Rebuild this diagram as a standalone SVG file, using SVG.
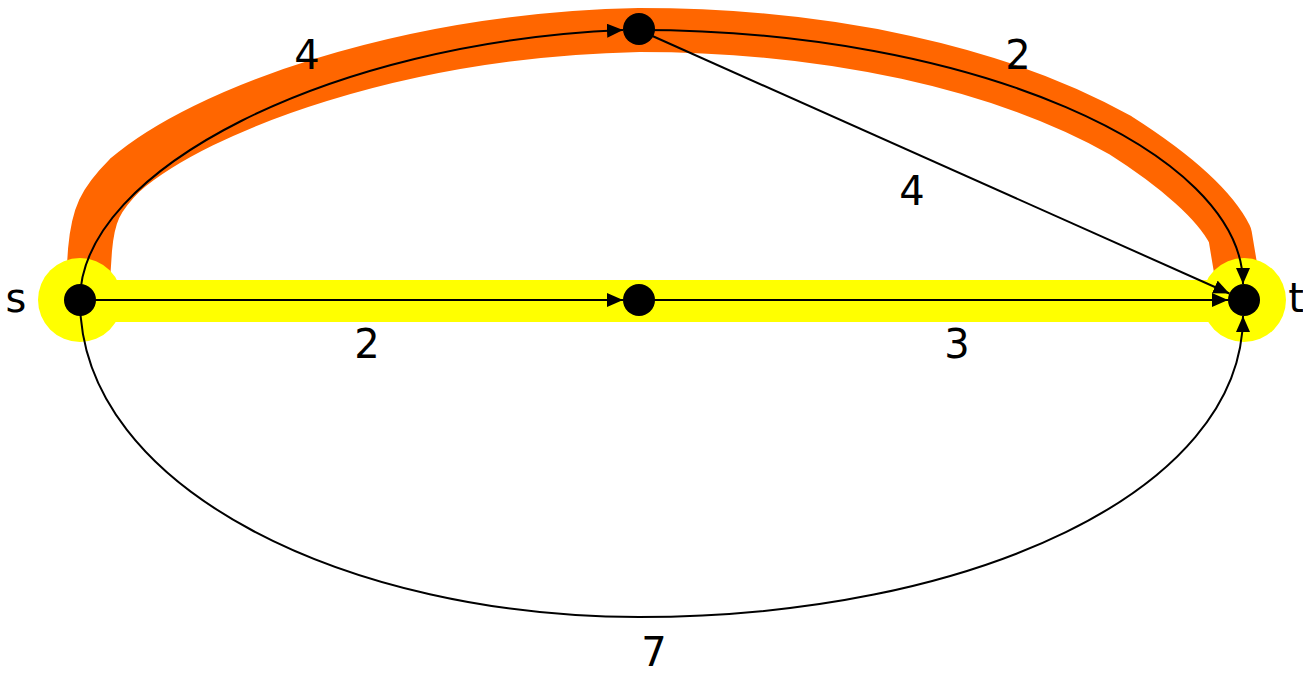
<svg xmlns="http://www.w3.org/2000/svg" width="1303" height="673" viewBox="0 0 1303 673">
<style>
.edge{fill:none;stroke:#000;stroke-width:2}
.node{fill:#000}
.lbl{font-family:"DejaVu Sans","Liberation Sans",sans-serif;font-size:40px;fill:#000;text-anchor:middle}
</style>
<defs>
<marker id="arr" markerWidth="16" markerHeight="14" refX="16" refY="7" orient="auto" markerUnits="userSpaceOnUse">
<path d="M0,0 L16,7 L0,14 Z" fill="#000"/>
</marker>
</defs>
<rect width="1303" height="673" fill="#fff"/>
<g id="highlights">
<path d="M87,295 L90,250 C93,215 100,200 125,175 C200,110 400,35 639,30 C830,30 1000,68 1120,135 C1175,170 1215,205 1230,235 L1240,295" fill="none" stroke="#FF6600" stroke-width="44" stroke-linejoin="round"/>
<line x1="80" y1="301" x2="1244" y2="301" stroke="#FFFF00" stroke-width="42"/>
<circle cx="80" cy="300" r="42" fill="#FFFF00"/>
<circle cx="1244" cy="300" r="42" fill="#FFFF00"/>
</g>
<g id="connectors">
<path class="edge" d="M80,300 C80,170 330,42 623,30" marker-end="url(#arr)"/>
<path class="edge" d="M639,30 C972,30 1243,151 1243,284" marker-end="url(#arr)"/>
<line class="edge" x1="639" y1="30" x2="1229.4" y2="293.5" marker-end="url(#arr)"/>
<line class="edge" x1="80" y1="300" x2="623" y2="300" marker-end="url(#arr)"/>
<line class="edge" x1="639" y1="300" x2="1228" y2="300" marker-end="url(#arr)"/>
<path class="edge" d="M80,300 C80,490 350,617 639,617 C972,617 1243,491 1243,316" marker-end="url(#arr)"/>
</g>
<g id="node-s"><circle class="node" cx="80" cy="300" r="16"/><text class="lbl" x="16" y="312">s</text></g>
<g id="node-top"><circle class="node" cx="639" cy="29" r="16"/></g>
<g id="node-mid"><circle class="node" cx="639" cy="300" r="16"/></g>
<g id="node-t"><circle class="node" cx="1244" cy="300" r="16"/><text class="lbl" x="1296" y="312">t</text></g>
<g id="labels">
<text class="lbl" x="307" y="69">4</text>
<text class="lbl" x="1018" y="69">2</text>
<text class="lbl" x="912" y="205">4</text>
<text class="lbl" x="367" y="358">2</text>
<text class="lbl" x="957" y="358">3</text>
<text class="lbl" x="654" y="666">7</text>
</g>
</svg>
